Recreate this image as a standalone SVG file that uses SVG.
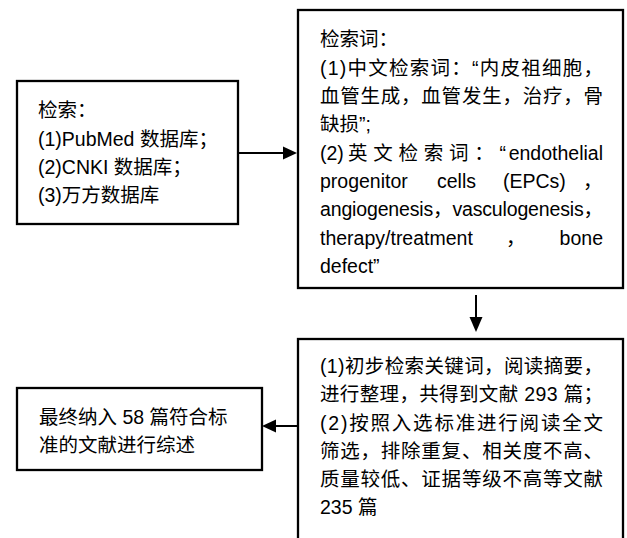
<svg xmlns="http://www.w3.org/2000/svg" width="627" height="538" viewBox="0 0 627 538">
<style>
.box{fill:#fff;stroke:#000;stroke-width:2.3}
.t{font-family:"Liberation Sans","Noto Sans CJK SC",sans-serif;font-size:19.5px;fill:#000}
.ln{stroke:#000;stroke-width:2;fill:none}
.ah{fill:#000}
</style>
<rect width="627" height="538" fill="#fff"/>
<g id="connectors">
  <line class="ln" x1="238" y1="153" x2="285" y2="153"/>
  <polygon class="ah" points="297,153 283,146.5 283,159.5"/>
  <line class="ln" x1="476" y1="295" x2="476" y2="320"/>
  <polygon class="ah" points="476,332 469.5,317 482.5,317"/>
  <line class="ln" x1="298" y1="426" x2="274" y2="426"/>
  <polygon class="ah" points="262,426 276,419.5 276,432.5"/>
</g>
<g id="node1">
  <rect class="box" x="17" y="81" width="221" height="143"/>
  <text class="t" x="38" y="117">检索：</text>
  <text class="t" x="38" y="146">(1)PubMed 数据库；</text>
  <text class="t" x="38" y="174">(2)CNKI 数据库；</text>
  <text class="t" x="38" y="202">(3)万方数据库</text>
</g>
<g id="node2">
  <rect class="box" x="298" y="10" width="325" height="278"/>
  <text class="t" x="320" y="46">检索词：</text>
  <text class="t" x="320" y="74.5" textLength="283" lengthAdjust="spacing">(1)中文检索词：“内皮祖细胞，</text>
  <text class="t" x="320" y="103" textLength="283" lengthAdjust="spacing">血管生成，血管发生，治疗，骨</text>
  <text class="t" x="320" y="131">缺损”;</text>
  <text class="t" x="320" y="159.5">(2)</text>
  <text class="t" x="348" y="159.5" textLength="158" lengthAdjust="spacing">英文检索词：“</text>
  <text class="t" x="603" y="159.5" text-anchor="end">endothelial</text>
  <text class="t" x="320" y="188">progenitor</text>
  <text class="t" x="437" y="188">cells</text>
  <text class="t" x="503" y="188">(EPCs)</text>
  <text class="t" x="583" y="188">，</text>
  <text class="t" x="320" y="216" textLength="283" lengthAdjust="spacing">angiogenesis，vasculogenesis，</text>
  <text class="t" x="320" y="244.5">therapy/treatment</text>
  <text class="t" x="506" y="244.5">，</text>
  <text class="t" x="603" y="244.5" text-anchor="end">bone</text>
  <text class="t" x="320" y="273">defect”</text>
</g>
<g id="node3">
  <rect class="box" x="298" y="339" width="325" height="210"/>
  <text class="t" x="320" y="373" textLength="283" lengthAdjust="spacing">(1)初步检索关键词，阅读摘要，</text>
  <text class="t" x="320" y="401" textLength="283" lengthAdjust="spacing">进行整理，共得到文献 293 篇；</text>
  <text class="t" x="320" y="429.5" textLength="283" lengthAdjust="spacing">(2)按照入选标准进行阅读全文</text>
  <text class="t" x="320" y="458" textLength="283" lengthAdjust="spacing">筛选，排除重复、相关度不高、</text>
  <text class="t" x="320" y="486" textLength="283" lengthAdjust="spacing">质量较低、证据等级不高等文献</text>
  <text class="t" x="320" y="514">235 篇</text>
</g>
<g id="node4">
  <rect class="box" x="17" y="388" width="245" height="82"/>
  <text class="t" x="39" y="424">最终纳入 58 篇符合标</text>
  <text class="t" x="39" y="452">准的文献进行综述</text>
</g>
</svg>
